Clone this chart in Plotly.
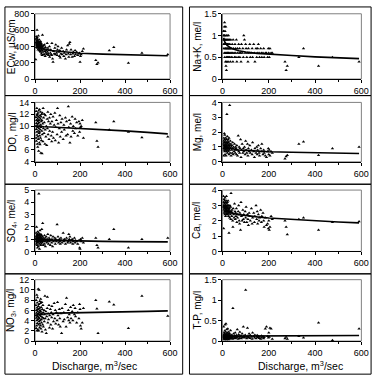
import plotly.graph_objects as go

# ---------------- data ----------------
discharge = [3,4,5,5,6,6,7,7,8,8,
             9,9,10,10,10,11,11,12,12,13,
             13,14,14,15,15,16,16,17,17,18,
             18,19,19,20,20,21,21,22,22,23,
             24,24,25,25,26,26,27,28,28,29,
             30,30,31,32,33,34,35,36,37,38,
             40,41,42,44,45,46,48,50,52,54,
             55,57,58,60,62,64,65,68,70,72,
             74,75,78,80,82,85,88,90,92,95,
             98,100,102,105,108,110,112,115,118,120,
             125,128,130,135,138,140,145,148,150,152,
             155,158,160,165,168,170,175,178,180,185,
             190,195,198,200,202,205,210,215,270,275,
             280,330,350,415,475,590]

ecw = [240,480,450,520,420,390,500,440,410,470,
       600,430,380,460,510,420,400,440,480,360,
       450,420,390,530,410,370,460,430,400,380,
       440,350,480,410,390,450,360,420,400,340,
       430,380,460,330,410,370,440,400,310,360,
       420,380,290,350,540,400,330,300,370,410,
       360,300,420,340,280,390,320,350,300,440,
       330,380,310,290,350,400,270,320,360,300,
       290,440,250,210,340,310,380,300,420,320,
       290,360,400,330,280,350,260,310,380,300,
       340,280,320,250,300,360,410,310,270,430,
       450,300,360,270,310,330,280,350,300,330,
       290,310,320,210,280,300,340,370,230,180,
       200,350,390,195,320,300]

nak = [0.9,1.1,1.0,0.8,1.1,0.7,0.9,1.0,0.6,1.2,
       0.8,1.3,0.5,0.9,1.0,0.7,1.1,0.6,0.8,0.4,
       0.9,1.2,0.7,0.3,0.8,1.0,0.6,0.2,0.9,0.5,
       0.7,0.8,0.4,1.0,0.6,0.8,0.9,0.5,0.7,0.6,
       0.8,0.4,0.9,0.7,0.6,1.0,0.5,0.8,0.6,0.7,
       0.9,0.5,0.7,0.8,0.6,0.4,0.7,0.9,0.5,0.6,
       0.7,0.5,0.8,0.6,0.4,0.9,0.7,0.6,0.5,0.8,
       0.6,0.7,0.5,0.9,0.4,0.6,0.7,0.5,0.8,0.6,
       0.7,0.5,0.6,0.4,0.8,0.6,0.7,0.5,1.0,0.9,
       0.6,0.8,0.7,0.5,0.6,0.4,0.7,0.6,0.8,0.5,
       0.6,0.7,0.5,0.8,0.6,0.4,0.7,0.5,0.6,0.7,
       0.8,0.6,0.5,0.7,0.6,0.5,0.6,0.7,0.5,0.6,
       0.6,0.5,0.7,0.6,0.5,0.7,0.6,0.6,0.4,0.2,
       0.3,0.5,0.7,0.3,0.5,0.4]

do_ = [10.0,11.5,8.0,12.5,9.5,7.5,11.0,10.5,13.0,9.0,
       8.5,11.8,10.2,7.0,12.0,9.8,11.2,6.5,10.8,8.2,
       12.2,9.2,11.6,7.8,10.4,5.8,12.6,9.6,11.0,8.8,
       10.6,7.2,11.4,9.0,12.8,8.4,10.0,11.8,6.9,9.4,
       11.2,8.0,12.4,10.2,5.5,9.8,11.6,7.6,10.8,12.0,
       9.2,11.0,5.4,8.6,12.2,10.4,7.4,13.0,9.6,11.4,
       8.8,10.6,12.0,7.0,9.4,11.8,8.2,10.0,6.8,11.2,
       9.6,12.4,8.6,10.8,7.8,11.4,9.2,10.4,12.0,8.4,
       7.4,10.8,9.0,11.6,8.0,10.2,12.2,7.6,9.8,11.0,
       8.6,13.0,10.4,7.2,9.6,11.8,8.2,10.6,9.0,11.2,
       7.8,10.2,9.4,11.4,8.4,10.8,8.6,13.3,9.8,11.0,
       7.2,10.4,8.2,11.6,9.2,10.0,8.8,11.2,9.6,10.6,
       8.4,10.8,9.0,10.4,9.8,10.0,11.0,8.0,10.6,7.5,
       6.5,9.4,10.8,9.0,8.1,8.2]

mg = [1.2,0.9,1.4,0.4,1.1,1.6,0.8,1.3,1.0,1.9,
      0.7,1.5,1.1,0.9,1.8,1.2,0.5,1.0,1.4,0.8,
      1.1,1.6,0.9,1.3,0.4,1.0,1.2,0.7,1.5,0.9,
      1.1,3.2,0.8,1.3,1.0,1.7,0.6,1.2,0.9,1.4,
      1.0,0.8,1.5,1.1,0.7,1.3,0.9,1.6,0.5,1.2,
      1.0,0.8,3.8,1.1,0.6,1.4,0.9,1.2,0.4,1.0,
      0.8,1.1,0.6,1.3,0.9,0.5,1.0,0.7,1.2,0.8,
      0.6,1.0,0.9,0.5,1.1,0.8,0.4,1.75,0.7,1.0,
      0.6,0.9,1.5,0.3,0.8,1.2,0.6,0.9,0.7,1.0,
      0.5,1.4,0.8,0.6,1.2,0.4,0.9,0.7,1.1,0.6,
      0.8,0.5,1.3,0.7,0.3,0.9,0.6,1.0,0.5,0.8,
      1.1,0.6,0.4,0.9,0.7,1.2,0.5,0.8,0.6,0.4,
      0.3,0.7,0.9,0.5,0.8,0.4,0.7,0.6,0.2,0.35,
      0.45,1.2,1.35,0.45,0.9,1.0]

so4 = [1.0,1.2,0.8,1.5,0.6,1.1,0.9,2.0,1.3,0.7,
       1.0,0.5,1.4,0.9,1.2,0.3,1.1,0.8,1.6,1.0,
       0.7,1.3,0.9,1.1,0.4,1.5,0.8,1.0,4.7,1.2,
       0.9,1.4,0.6,1.1,0.2,1.0,1.3,0.8,1.7,0.9,
       1.1,0.7,1.2,0.5,1.0,1.4,0.8,1.1,0.6,1.3,
       0.9,1.8,1.0,0.7,1.2,2.3,0.8,1.1,0.5,0.9,
       1.0,0.6,1.3,0.8,1.1,0.4,0.9,1.2,0.7,1.0,
       0.8,1.4,0.9,0.6,1.1,0.8,1.0,0.5,1.3,0.9,
       0.7,1.0,0.4,1.2,0.8,0.9,1.1,0.6,1.0,0.8,
       2.2,0.9,1.2,0.7,1.0,0.8,0.6,1.1,0.9,0.7,
       1.5,0.8,1.0,0.6,0.9,1.1,0.7,0.8,1.4,1.0,
       1.2,0.7,0.9,1.0,0.6,0.8,1.1,0.7,0.9,0.8,
       0.6,0.9,0.3,0.2,1.0,0.8,1.1,0.7,1.1,0.5,
       0.3,1.0,1.8,0.3,1.0,1.1]

ca = [2.9,3.6,1.5,3.2,2.7,3.0,2.5,3.4,2.8,3.1,
      2.6,3.3,2.9,2.4,3.1,2.8,3.5,2.6,3.0,2.3,
      2.9,3.2,2.7,3.0,2.5,2.8,3.3,2.6,3.6,2.9,
      2.4,3.1,2.7,2.9,2.5,3.2,2.8,2.6,3.0,2.4,
      2.8,3.3,2.5,2.7,3.0,2.3,2.6,2.9,1.2,2.7,
      2.5,2.8,2.2,3.0,2.6,2.4,2.9,2.1,3.8,2.6,
      2.3,2.7,2.5,2.0,1.6,2.8,2.4,2.2,3.1,2.6,
      2.1,2.5,2.3,2.8,1.9,2.4,2.2,2.6,3.0,2.0,
      1.8,2.5,1.4,3.2,2.3,2.0,2.7,2.1,2.4,1.9,
      2.6,2.2,2.9,1.9,2.4,2.1,1.7,2.5,2.3,2.0,
      2.8,1.8,2.2,2.5,1.9,2.3,3.0,2.1,2.6,1.8,
      2.4,2.0,2.2,2.7,1.9,2.3,2.5,2.0,1.6,2.2,
      1.7,1.8,1.5,2.0,1.4,1.6,2.3,2.1,2.0,1.6,
      1.1,2.1,2.2,1.4,1.9,1.95]

no3 = [5.0,7.0,2.5,8.0,4.5,6.0,3.0,5.5,9.0,4.0,
       6.5,2.0,5.0,7.5,3.5,4.8,8.5,5.8,2.2,6.2,
       4.2,5.4,10.2,3.2,6.8,4.6,2.0,7.2,5.2,3.8,
       10.0,4.4,6.4,2.6,5.6,7.8,3.4,5.0,6.0,4.0,
       7.4,3.0,5.8,8.2,4.8,2.4,6.6,4.2,5.4,3.6,
       7.6,5.2,1.8,6.2,4.6,3.2,7.0,5.6,2.8,4.4,
       6.0,3.8,5.2,8.8,4.4,2.2,5.8,1.5,4.8,6.4,
       8.6,3.6,5.4,4.2,7.0,2.6,5.0,6.2,3.2,5.6,
       4.6,6.8,2.4,5.2,3.8,7.4,4.4,6.0,3.4,5.6,
       4.0,7.6,5.0,3.2,6.2,4.4,2.8,5.4,1.5,6.4,
       3.8,5.6,4.2,7.2,2.8,8.4,4.6,6.0,4.0,5.2,
       3.6,6.6,4.4,5.8,4.0,7.0,5.2,6.4,4.8,3.6,
       5.6,4.4,7.2,6.2,3.0,2.4,3.6,6.4,8.0,6.3,
       1.5,7.7,7.1,2.5,8.8,4.9]

tp = [0.10,0.15,0.05,0.35,0.08,0.12,0.20,0.06,0.14,0.09,
      0.18,0.04,0.11,0.25,0.07,0.13,0.40,0.10,0.05,0.16,
      0.08,0.22,0.12,0.06,0.42,0.10,0.15,0.04,0.09,0.28,
      0.12,0.07,0.18,0.10,0.05,0.14,0.20,0.08,0.11,0.30,
      0.06,0.13,0.09,0.17,0.04,0.11,0.22,0.08,0.15,0.10,
      0.12,0.05,0.18,0.09,0.14,0.07,0.26,0.11,0.06,0.10,
      0.15,0.08,0.12,0.05,0.80,0.10,0.18,0.07,0.13,0.09,
      0.20,0.06,0.11,0.14,0.08,0.28,0.10,0.05,0.16,0.12,
      0.07,0.22,0.10,0.13,0.06,0.18,0.09,0.35,0.12,0.08,
      0.15,1.25,0.10,0.06,0.32,0.12,0.09,0.18,0.07,0.14,
      0.10,0.05,0.20,0.12,0.08,0.15,0.06,0.11,0.14,0.09,
      0.12,0.07,0.10,0.05,0.13,0.08,0.11,0.06,0.09,0.30,
      0.35,0.12,0.08,0.20,0.10,0.32,0.30,0.05,0.06,0.10,
      0.05,0.12,0.08,0.45,0.02,0.30]

# trend lines
trend_q = [5,10,20,40,70,100,150,200,300,400,500,590]
ecw_trend = [450,420,395,370,350,340,325,315,305,298,290,285]
nak_trend = [0.95,0.85,0.77,0.70,0.65,0.62,0.59,0.57,0.54,0.51,0.49,0.47]
do_trend = [10.0,10.0,9.95,9.9,9.85,9.8,9.7,9.6,9.4,9.2,8.95,8.7]
mg_trend = [1.1,1.0,0.95,0.88,0.80,0.77,0.72,0.68,0.64,0.60,0.58,0.56]
so4_trend = [1.0,0.99,0.97,0.94,0.92,0.90,0.87,0.85,0.82,0.80,0.79,0.78]
ca_trend = [2.95,2.8,2.65,2.5,2.4,2.33,2.25,2.18,2.08,2.0,1.92,1.86]
no3_trend = [5.2,5.22,5.3,5.35,5.4,5.45,5.48,5.5,5.6,5.7,5.8,5.9]
tp_trend = [0.12,0.12,0.12,0.122,0.124,0.125,0.127,0.128,0.13,0.132,0.134,0.135]

y_titles = ["ECw, µS/cm", "Na+K, me/l", "DO, mg/l", "Mg, me/l",
            "SO<sub>4</sub>, me/l", "Ca, me/l", "NO<sub>3</sub>, mg/l", "T-P, mg/l"]
y_ranges = [[0, 800], [0, 1.5], [4, 14], [0, 4], [0, 5], [0, 4], [0, 12], [0, 1.5]]
y_dticks = [200, 0.5, 2, 1, 1, 1, 2, 0.5]
x_ticks = [0, 200, 400, 600]
x_title = "Discharge, m<sup>3</sup>/sec"

series = [ecw, nak, do_, mg, so4, ca, no3, tp]
trends = [ecw_trend, nak_trend, do_trend, mg_trend, so4_trend, ca_trend, no3_trend, tp_trend]
for s in series:
    assert len(s) == len(discharge), len(s)

# ---------------- layout helpers (pixels -> paper) ----------------
W, H = 382, 385
def px(x): return x / W
def py(y): return 1 - y / H

col_x = [(33, 172), (226, 369)]
row_y = [(9, 76), (100, 161), (190, 253), (282, 345)]
cell_x = [(2, 185), (192, 379)]
cell_y = [(2, 93), (93, 184), (184, 276), (276, 379)]

FONT = "Liberation Sans, Arial, sans-serif"
fig = go.Figure()
shapes = []
annotations = []

for i in range(8):
    r, c = divmod(i, 2)
    n = i + 1
    xa = "x" if n == 1 else f"x{n}"
    ya = "y" if n == 1 else f"y{n}"
    fig.add_trace(go.Scatter(x=discharge, y=series[i], mode="markers",
                             marker=dict(symbol="triangle-up", size=3, color="black"),
                             xaxis=xa, yaxis=ya, showlegend=False, hoverinfo="skip"))
    fig.add_trace(go.Scatter(x=trend_q, y=trends[i], mode="lines",
                             line=dict(color="black", width=1.6),
                             xaxis=xa, yaxis=ya, showlegend=False, hoverinfo="skip"))
    x0, x1 = col_x[c]
    y0, y1 = row_y[r]
    fig.layout[f"xaxis{'' if n == 1 else n}"] = dict(
        domain=[px(x0), px(x1)], anchor=ya, range=[0, 600], tickvals=x_ticks,
        showline=True, linecolor="black", linewidth=1, ticks="outside", ticklen=3,
        tickcolor="black", showgrid=False, zeroline=False,
        minor=dict(dtick=100, ticks="outside", ticklen=2, tickcolor="black"),
        tickfont=dict(family=FONT, size=9, color="black"), fixedrange=True)
    fig.layout[f"yaxis{'' if n == 1 else n}"] = dict(
        domain=[py(y1), py(y0)], anchor=xa, range=y_ranges[i], dtick=y_dticks[i],
        tick0=y_ranges[i][0],
        showline=True, linecolor="black", linewidth=1, ticks="outside", ticklen=3,
        tickcolor="black", showgrid=False, zeroline=False,
        tickfont=dict(family=FONT, size=9, color="black"), fixedrange=True)
    # plot-area frame (gray)
    shapes.append(dict(type="rect", xref="paper", yref="paper",
                       x0=px(x0), x1=px(x1), y0=py(y1), y1=py(y0),
                       line=dict(color="#808080", width=1), layer="below"))
    # cell border
    cx0, cx1 = cell_x[c]
    cy0, cy1 = cell_y[r]
    shapes.append(dict(type="rect", xref="paper", yref="paper",
                       x0=px(cx0), x1=px(cx1), y0=py(cy1), y1=py(cy0),
                       line=dict(color="black", width=1)))
    # y title
    tx = 9 if c == 0 else 200
    annotations.append(dict(text=y_titles[i], xref="paper", yref="paper",
                            x=px(tx), y=py((y0 + y1) / 2), showarrow=False,
                            textangle=-90, xanchor="center", yanchor="middle",
                            font=dict(family=FONT, size=10, color="black")))

for c, cxp in enumerate([94, 306]):
    annotations.append(dict(text=x_title, xref="paper", yref="paper",
                            x=px(cxp), y=py(370), showarrow=False,
                            xanchor="center", yanchor="middle",
                            font=dict(family=FONT, size=10.5, color="black")))

fig.update_layout(width=W, height=H, margin=dict(l=0, r=0, t=0, b=0),
                  paper_bgcolor="white", plot_bgcolor="white",
                  shapes=shapes, annotations=annotations, showlegend=False)

fig.write_html("out.html", config={"displayModeBar": False})
